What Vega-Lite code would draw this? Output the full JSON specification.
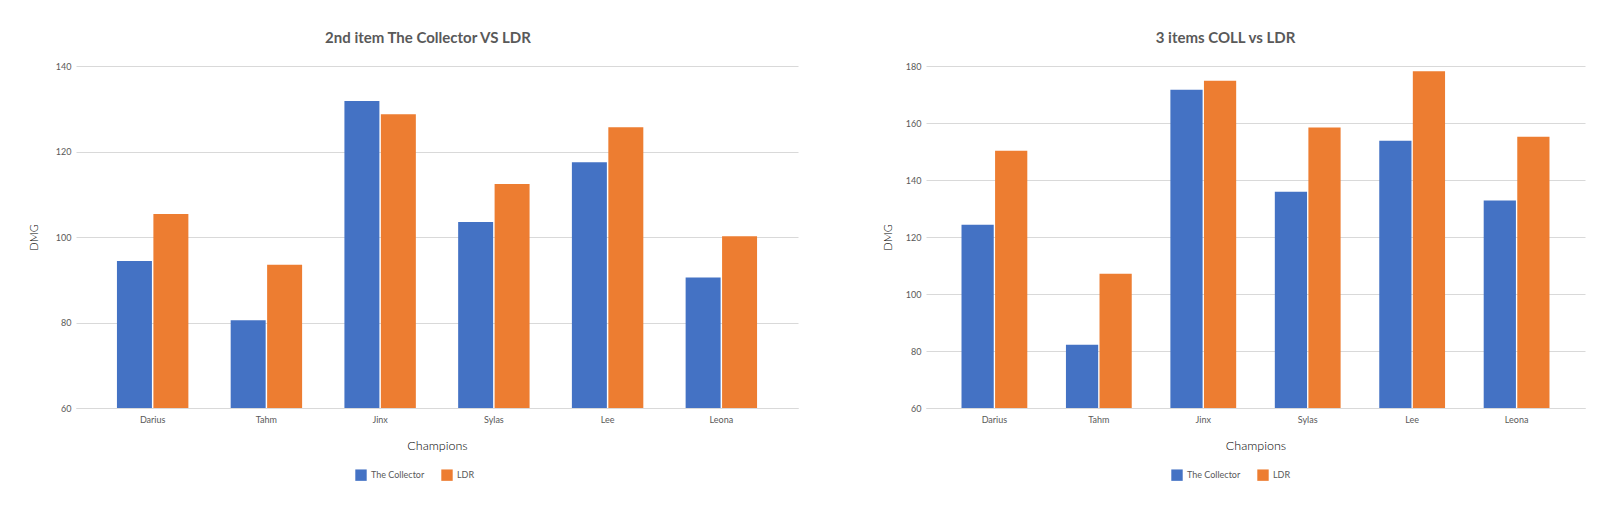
{
  "$schema": "https://vega.github.io/schema/vega-lite/v6.json",
  "background": "white",
  "padding": {"left": 28, "top": 31, "right": 24, "bottom": 5},
  "datasets": {
    "second": [
      {"champion": "Darius", "item": "The Collector", "dmg": 94.4},
      {"champion": "Darius", "item": "LDR", "dmg": 105.4},
      {"champion": "Tahm", "item": "The Collector", "dmg": 80.5},
      {"champion": "Tahm", "item": "LDR", "dmg": 93.5},
      {"champion": "Jinx", "item": "The Collector", "dmg": 131.8},
      {"champion": "Jinx", "item": "LDR", "dmg": 128.7},
      {"champion": "Sylas", "item": "The Collector", "dmg": 103.5},
      {"champion": "Sylas", "item": "LDR", "dmg": 112.4},
      {"champion": "Lee", "item": "The Collector", "dmg": 117.5},
      {"champion": "Lee", "item": "LDR", "dmg": 125.7},
      {"champion": "Leona", "item": "The Collector", "dmg": 90.5},
      {"champion": "Leona", "item": "LDR", "dmg": 100.2}
    ],
    "three": [
      {"champion": "Darius", "item": "The Collector", "dmg": 124.3},
      {"champion": "Darius", "item": "LDR", "dmg": 150.3},
      {"champion": "Tahm", "item": "The Collector", "dmg": 82.2},
      {"champion": "Tahm", "item": "LDR", "dmg": 107.1},
      {"champion": "Jinx", "item": "The Collector", "dmg": 171.7},
      {"champion": "Jinx", "item": "LDR", "dmg": 174.8},
      {"champion": "Sylas", "item": "The Collector", "dmg": 135.9},
      {"champion": "Sylas", "item": "LDR", "dmg": 158.4},
      {"champion": "Lee", "item": "The Collector", "dmg": 153.8},
      {"champion": "Lee", "item": "LDR", "dmg": 178.2},
      {"champion": "Leona", "item": "The Collector", "dmg": 132.8},
      {"champion": "Leona", "item": "LDR", "dmg": 155.2}
    ]
  },
  "bounds": "flush",
  "spacing": 128,
  "hconcat": [
    {
      "data": {"name": "second"},
      "title": {"text": "2nd item The Collector VS LDR", "dx": -9},
      "width": 722,
      "height": 342,
      "mark": {"type": "bar"},
      "encoding": {
        "x": {"field": "champion", "type": "nominal", "sort": ["Darius", "Tahm", "Jinx", "Sylas", "Lee", "Leona"], "title": "Champions", "scale": {"paddingInner": 0.372, "paddingOuter": 0.36}},
        "xOffset": {"field": "item", "type": "nominal", "sort": ["The Collector", "LDR"], "scale": {"paddingInner": 0.04}},
        "y": {"field": "dmg", "type": "quantitative", "title": "DMG", "scale": {"domain": [60, 140], "nice": false, "zero": false}, "axis": {"values": [60, 80, 100, 120, 140]}},
        "y2": {"datum": 60},
        "color": {"field": "item", "type": "nominal", "sort": ["The Collector", "LDR"], "scale": {"domain": ["The Collector", "LDR"], "range": ["#4472C4", "#ED7D31"]}, "legend": {"title": null, "orient": "none", "direction": "horizontal", "legendX": 279, "legendY": 403}}
      }
    },
    {
      "data": {"name": "three"},
      "title": {"text": "3 items COLL vs LDR", "dx": -30},
      "width": 659,
      "height": 342,
      "mark": {"type": "bar"},
      "encoding": {
        "x": {"field": "champion", "type": "nominal", "sort": ["Darius", "Tahm", "Jinx", "Sylas", "Lee", "Leona"], "title": "Champions", "scale": {"paddingInner": 0.37, "paddingOuter": 0.34}},
        "xOffset": {"field": "item", "type": "nominal", "sort": ["The Collector", "LDR"], "scale": {"paddingInner": 0.04}},
        "y": {"field": "dmg", "type": "quantitative", "title": "DMG", "scale": {"domain": [60, 180], "nice": false, "zero": false}, "axis": {"values": [60, 80, 100, 120, 140, 160, 180], "titlePadding": 12}},
        "y2": {"datum": 60},
        "color": {"field": "item", "type": "nominal", "sort": ["The Collector", "LDR"], "scale": {"domain": ["The Collector", "LDR"], "range": ["#4472C4", "#ED7D31"]}, "legend": {"title": null, "orient": "none", "direction": "horizontal", "legendX": 245, "legendY": 403}}
      }
    }
  ],
  "resolve": {"scale": {"x": "independent", "y": "independent", "color": "independent", "xOffset": "independent"}, "legend": {"color": "independent"}, "axis": {"x": "independent", "y": "independent"}},
  "config": {
    "font": "Lato",
    "view": {"stroke": null},
    "style": {"guide-title": {"fontWeight": 300}},
    "axis": {"labelColor": "#595959", "labelFontSize": 9, "titleColor": "#000000", "titleFontWeight": 300},
    "axisY": {"gridColor": "#d9d9d9", "domain": false, "ticks": false, "labelPadding": 5, "titleFontSize": 11, "titlePadding": 16, "titleFontWeight": 300},
    "axisX": {"domainColor": "#d9d9d9", "ticks": false, "labelAngle": 0, "labelPadding": 7, "titleFontSize": 12.5, "titlePadding": 15, "grid": false, "titleFontWeight": 300},
    "legend": {"symbolType": "square", "labelFontSize": 9, "labelColor": "#595959", "symbolSize": 130, "symbolStrokeWidth": 0, "columnPadding": 16},
    "title": {"fontSize": 15, "color": "#595959", "fontWeight": "bold", "offset": 16, "anchor": "middle"}
  }
}
